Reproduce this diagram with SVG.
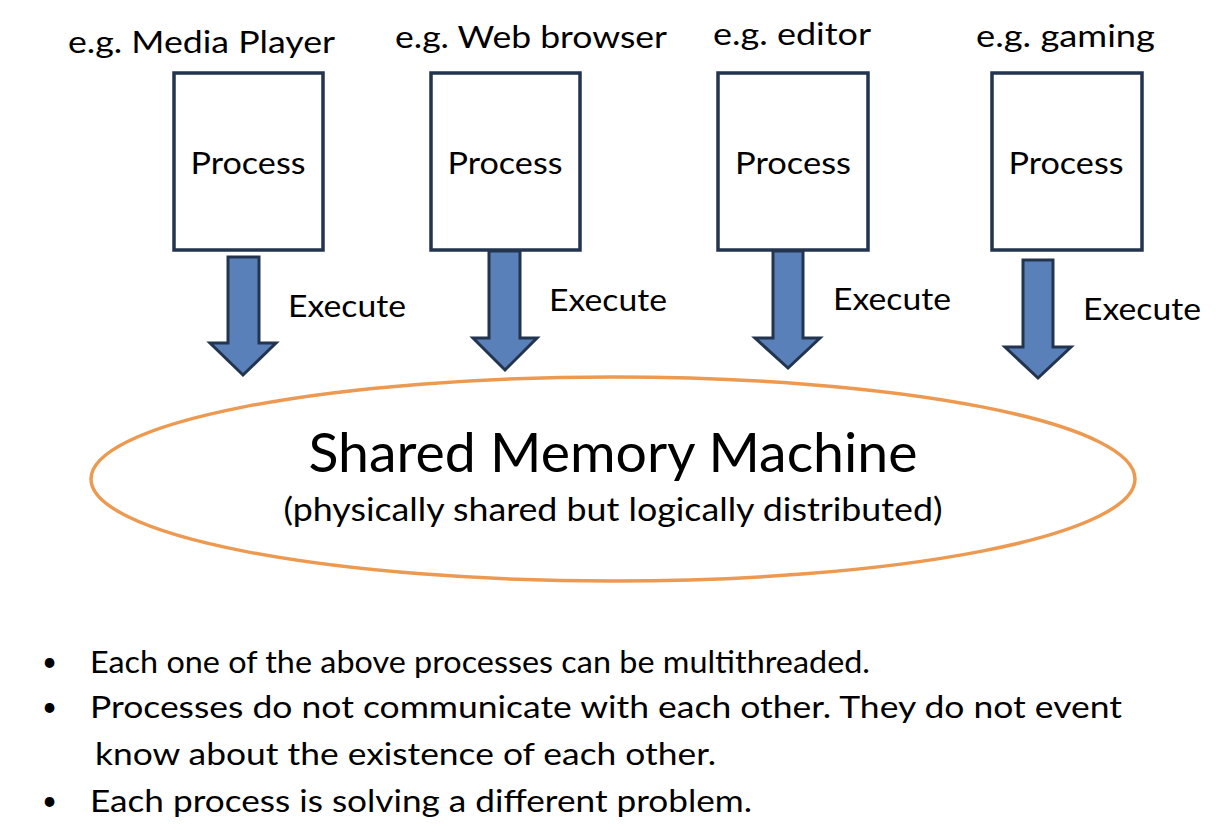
<svg xmlns="http://www.w3.org/2000/svg" width="1220" height="832" viewBox="0 0 1220 832">
<style>
text{font-family:Lato,"Open Sans","Liberation Sans",sans-serif;fill:#000}
.box{fill:#fff;stroke:#23344f;stroke-width:3.5}
.arr{fill:#5a80b9;stroke:#23344f;stroke-width:3;stroke-linejoin:miter}
.lbl{font-size:31px}
.proc{font-size:31px;text-anchor:middle}
.ex{font-size:31px}
.bul{font-size:31px}
.dot{font-size:26px}
</style>
<rect width="1220" height="832" fill="#fff"/>
<g id="machine">
<ellipse cx="613" cy="479" rx="522" ry="102" fill="#fff" stroke="#ec9a52" stroke-width="3.5"/>
<text x="613" y="472" font-size="54" text-anchor="middle" textLength="609" lengthAdjust="spacingAndGlyphs">Shared Memory Machine</text>
<text x="613" y="521" font-size="33" text-anchor="middle" textLength="659" lengthAdjust="spacingAndGlyphs">(physically shared but logically distributed)</text>
</g>
<g id="p1">
<text class="lbl" x="68" y="53" textLength="267" lengthAdjust="spacingAndGlyphs">e.g. Media Player</text>
<rect class="box" x="174" y="73" width="149" height="177"/>
<text class="proc" x="248" y="174" textLength="115" lengthAdjust="spacingAndGlyphs">Process</text>
</g>
<g id="p2">
<text class="lbl" x="395" y="48" textLength="272" lengthAdjust="spacingAndGlyphs">e.g. Web browser</text>
<rect class="box" x="431" y="73" width="149" height="177"/>
<text class="proc" x="505" y="174" textLength="115" lengthAdjust="spacingAndGlyphs">Process</text>
</g>
<g id="p3">
<text class="lbl" x="713" y="45" textLength="158" lengthAdjust="spacingAndGlyphs">e.g. editor</text>
<rect class="box" x="718" y="73" width="150" height="177"/>
<text class="proc" x="793" y="174" textLength="116" lengthAdjust="spacingAndGlyphs">Process</text>
</g>
<g id="p4">
<text class="lbl" x="976" y="47" textLength="179" lengthAdjust="spacingAndGlyphs">e.g. gaming</text>
<rect class="box" x="992" y="73" width="150" height="177"/>
<text class="proc" x="1066" y="174" textLength="115" lengthAdjust="spacingAndGlyphs">Process</text>
</g>
<g id="connectors">
<polygon class="arr" points="228,257 259,257 259,343 276,343 243,375 210,343 228,343"/>
<polygon class="arr" points="489,251 520,251 520,338 537,338 505,370 473,338 489,338"/>
<polygon class="arr" points="773,251 803,251 803,338 820,338 788,368 755,338 773,338"/>
<polygon class="arr" points="1023,260 1053,260 1053,347 1071,347 1038,378 1005,347 1023,347"/>
<text class="ex" x="288" y="317" textLength="118" lengthAdjust="spacingAndGlyphs">Execute</text>
<text class="ex" x="549" y="311" textLength="118" lengthAdjust="spacingAndGlyphs">Execute</text>
<text class="ex" x="833" y="310" textLength="118" lengthAdjust="spacingAndGlyphs">Execute</text>
<text class="ex" x="1083" y="320" textLength="118" lengthAdjust="spacingAndGlyphs">Execute</text>
</g>
<g id="notes">
<text class="dot" x="42" y="671">•</text>
<text class="bul" x="90" y="673" textLength="780" lengthAdjust="spacingAndGlyphs">Each one of the above processes can be multithreaded.</text>
<text class="dot" x="42" y="716">•</text>
<text class="bul" x="90" y="718" textLength="1032" lengthAdjust="spacingAndGlyphs">Processes do not communicate with each other. They do not event</text>
<text class="bul" x="95" y="765" textLength="621" lengthAdjust="spacingAndGlyphs">know about the existence of each other.</text>
<text class="dot" x="42" y="810">•</text>
<text class="bul" x="90" y="812" textLength="662" lengthAdjust="spacingAndGlyphs">Each process is solving a different problem.</text>
</g>
</svg>
